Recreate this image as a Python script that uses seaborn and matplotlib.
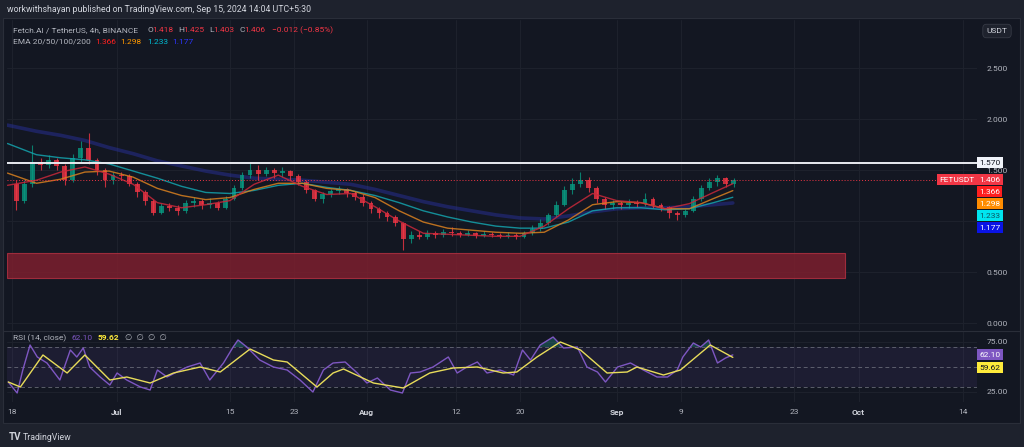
import pandas as pd
import matplotlib
matplotlib.use('Agg')
import matplotlib.pyplot as plt
import matplotlib.dates as mdates
from matplotlib.patches import Rectangle
from matplotlib.lines import Line2D
import seaborn as sns

W, H = 1024, 447

# ---- data (4h FET/USDT, aggregated to daily candles) ----
start = pd.Timestamp('2024-06-18')
first_open = 1.36
closes = [1.20, 1.36, 1.58, 1.55, 1.60, 1.54, 1.40, 1.62, 1.72, 1.60,
          1.50, 1.40, 1.45, 1.44, 1.36, 1.28, 1.20, 1.08, 1.15, 1.13,
          1.10, 1.18, 1.20, 1.16, 1.18, 1.13, 1.22, 1.32, 1.45, 1.50,
          1.46, 1.50, 1.47, 1.49, 1.44, 1.38, 1.30, 1.22, 1.26, 1.29,
          1.31, 1.27, 1.24, 1.18, 1.12, 1.08, 1.04, 0.98, 0.82, 0.86,
          0.84, 0.88, 0.86, 0.89, 0.88, 0.86, 0.88, 0.85, 0.87, 0.86,
          0.85, 0.86, 0.84, 0.88, 0.92, 0.98, 1.06, 1.16, 1.30, 1.36,
          1.40, 1.32, 1.22, 1.16, 1.18, 1.16, 1.18, 1.17, 1.22, 1.16,
          1.14, 1.08, 1.06, 1.10, 1.22, 1.32, 1.38, 1.42, 1.36, 1.406]
highs = [1.40, 1.40, 1.75, 1.62, 1.65, 1.62, 1.56, 1.66, 1.78, 1.86,
         1.62, 1.52, 1.48, 1.48, 1.46, 1.38, 1.30, 1.22, 1.18, 1.18,
         1.16, 1.21, 1.24, 1.22, 1.23, 1.20, 1.25, 1.35, 1.48, 1.57,
         1.55, 1.53, 1.52, 1.53, 1.50, 1.46, 1.40, 1.31, 1.28, 1.31,
         1.34, 1.32, 1.29, 1.26, 1.20, 1.14, 1.10, 1.06, 0.99, 0.90,
         0.90, 0.91, 0.90, 0.92, 0.94, 0.90, 0.91, 0.89, 0.90, 0.89,
         0.88, 0.89, 0.88, 0.90, 0.96, 1.02, 1.08, 1.20, 1.34, 1.42,
         1.48, 1.43, 1.34, 1.24, 1.21, 1.20, 1.22, 1.21, 1.27, 1.24,
         1.18, 1.15, 1.10, 1.12, 1.25, 1.35, 1.42, 1.45, 1.43, 1.42]
lows = [1.11, 1.18, 1.33, 1.50, 1.52, 1.50, 1.35, 1.38, 1.58, 1.56,
        1.45, 1.33, 1.36, 1.40, 1.34, 1.24, 1.16, 1.06, 1.07, 1.10,
        1.06, 1.08, 1.14, 1.12, 1.13, 1.11, 1.12, 1.21, 1.30, 1.42,
        1.40, 1.44, 1.42, 1.43, 1.40, 1.35, 1.27, 1.20, 1.18, 1.24,
        1.26, 1.24, 1.21, 1.15, 1.08, 1.03, 1.00, 0.95, 0.72, 0.78,
        0.82, 0.82, 0.83, 0.84, 0.85, 0.84, 0.85, 0.83, 0.84, 0.84,
        0.83, 0.83, 0.82, 0.83, 0.86, 0.90, 0.96, 1.04, 1.15, 1.26,
        1.33, 1.28, 1.18, 1.12, 1.12, 1.12, 1.13, 1.14, 1.15, 1.13,
        1.10, 1.03, 1.01, 1.04, 1.09, 1.20, 1.30, 1.34, 1.33, 1.33]

# EMA values sampled along the lines (day offsets from Jun 18)
ema_days = [-0.6, 3, 6, 9, 12, 15, 18, 21, 24, 27, 30, 33, 36, 39, 42, 45,
            48, 51, 54, 57, 60, 63, 66, 69, 72, 75, 78, 81, 84, 87, 89.4]
ema20 = [1.35, 1.40, 1.48, 1.53, 1.46, 1.36, 1.18, 1.13, 1.16, 1.20, 1.36,
         1.45, 1.34, 1.26, 1.27, 1.14, 1.00, 0.88, 0.87, 0.86, 0.85, 0.85,
         0.95, 1.12, 1.27, 1.20, 1.18, 1.12, 1.17, 1.28, 1.366]
ema50 = [1.47, 1.37, 1.41, 1.48, 1.49, 1.43, 1.32, 1.25, 1.21, 1.23, 1.31,
         1.37, 1.37, 1.32, 1.30, 1.23, 1.10, 0.99, 0.93, 0.91, 0.89, 0.88,
         0.89, 1.01, 1.16, 1.19, 1.18, 1.12, 1.12, 1.22, 1.298]
ema100 = [1.76, 1.65, 1.62, 1.60, 1.56, 1.49, 1.42, 1.34, 1.28, 1.27, 1.30,
          1.35, 1.37, 1.33, 1.30, 1.25, 1.18, 1.10, 1.04, 0.99, 0.95, 0.93,
          0.93, 0.99, 1.10, 1.13, 1.13, 1.11, 1.12, 1.18, 1.233]
ema200 = [1.94, 1.88, 1.84, 1.79, 1.72, 1.66, 1.59, 1.54, 1.49, 1.45, 1.42,
          1.41, 1.40, 1.38, 1.36, 1.31, 1.25, 1.19, 1.14, 1.10, 1.06, 1.03,
          1.02, 1.05, 1.09, 1.12, 1.13, 1.13, 1.14, 1.16, 1.177]

# RSI(14) and its moving average
rsi_days = [-0.5, 0.6, 1.3, 2.2, 3.1, 4.3, 5.9, 7.2, 8.0, 8.8, 9.6, 10.9,
            12.1, 13.0, 14.2, 15.9, 17.1, 18.0, 19.2, 20.4, 21.7, 23.3,
            24.5, 26.2, 27.4, 28.0, 29.1, 30.7, 32.4, 34.1, 35.7, 37.3,
            38.6, 39.8, 41.3, 42.8, 44.0, 45.3, 46.9, 48.4, 49.4, 50.6,
            52.2, 54.1, 55.2, 56.4, 57.7, 58.9, 60.5, 62.2, 63.3, 64.3,
            65.5, 67.1, 68.4, 70.1, 71.3, 72.6, 73.6, 75.1, 76.7, 78.3,
            80.0, 81.3, 82.5, 83.2, 84.5, 85.4, 86.4, 87.5, 88.5, 89.4]
rsi = [35, 24, 47, 72, 60, 54, 37, 67, 60, 69, 50, 40,
       32, 44, 37, 30, 27, 47, 40, 45, 50, 54,
       37, 54, 70, 77, 70, 57, 50, 47, 37, 25,
       47, 54, 55, 44, 34, 39, 27, 24, 44, 45,
       50, 60, 44, 50, 55, 44, 47, 42, 67, 57,
       72, 80, 69, 70, 50, 45, 35, 50, 54, 47,
       40, 40, 47, 60, 74, 70, 77, 54, 59, 62.10]
rsi_ma_days = [-0.5, 1.0, 3.8, 6.8, 9.0, 12.1, 14.2, 17.1, 20.0, 23.3, 25.8,
               29.5, 32.4, 34.1, 37.8, 39.8, 41.1, 44.8, 48.5, 51.8, 54.7,
               57.7, 60.9, 62.6, 65.1, 68.0, 70.5, 73.8, 76.3, 77.5, 80.8,
               82.9, 86.6, 89.4]
rsi_ma = [35, 30, 62, 44, 62, 37, 40, 34, 44, 50, 45,
          68, 57, 55, 30, 44, 48, 34, 29, 44, 49,
          50, 44, 45, 60, 75, 67, 44, 45, 50, 42,
          47, 72, 59.62]

resistance = 1.570
last_price = 1.406
zone_low, zone_high = 0.44, 0.686
zone_end = pd.Timestamp('2024-09-29 08:00')

price_ticks = [0.0, 0.5, 1.0, 1.5, 2.0, 2.5]
date_ticks = pd.to_datetime(['2024-06-18', '2024-07-01', '2024-07-15', '2024-07-23',
                             '2024-08-01', '2024-08-12', '2024-08-20', '2024-09-01',
                             '2024-09-09', '2024-09-23', '2024-10-01', '2024-10-14'])
date_labels = ['18', 'Jul', '15', '23', 'Aug', '12', '20', 'Sep', '9', '23', 'Oct', '14']

# ---- style ----
sns.set_theme(style='dark')
plt.rcParams['font.family'] = ['Roboto', 'DejaVu Sans']
BG = '#131722'
FRAME = '#1e222d'
TXT = '#b2b5be'
UP, DOWN = '#089981', '#f23645'

fig = plt.figure(figsize=(W / 100, H / 100), dpi=100, facecolor=FRAME)


def fx(px):
    return px / W


def fy(py):
    return 1 - py / H


fig.add_artist(Rectangle((fx(3), fy(423)), fx(1017), 405 / H, transform=fig.transFigure,
                         fc=BG, ec='#2a2e39', lw=0.8, zorder=0))

ax = fig.add_axes([fx(7), fy(330), fx(970), 310 / H])
rax = fig.add_axes([fx(7), fy(402), fx(970), 71 / H])

x0 = start - pd.Timedelta(days=0.66)
x1 = start + pd.Timedelta(days=119.7)

for a in (ax, rax):
    a.set_facecolor('none')
    for s in a.spines.values():
        s.set_visible(False)
    a.set_xlim(x0, x1)
    a.set_xticks(date_ticks)
    a.grid(True, color='#1d212c', lw=0.8)
    a.yaxis.tick_right()
    a.tick_params(axis='both', length=0, labelsize=6, labelcolor=TXT)

# ---- candles ----
days = pd.date_range(start, periods=len(closes), freq='D') + pd.Timedelta(hours=12)
opens = [first_open] + closes[:-1]
cols = [UP if c >= o else DOWN for o, c in zip(opens, closes)]
ax.vlines(days, lows, highs, colors=cols, lw=0.8, alpha=0.8, zorder=3)
bottoms = [min(o, c) for o, c in zip(opens, closes)]
heights = [max(abs(c - o), 0.006) for o, c in zip(opens, closes)]
ax.bar(days, heights, bottom=bottoms, width=0.6, color=cols, alpha=0.8, zorder=3, lw=0)

# ---- EMAs ----
ema_x = start + pd.to_timedelta(ema_days, unit='D')
ema_df = pd.DataFrame({'date': ema_x, 'e20': ema20, 'e50': ema50, 'e100': ema100, 'e200': ema200})
sns.lineplot(data=ema_df, x='date', y='e200', ax=ax, color='#2a33a8', lw=2.6, alpha=0.45, zorder=2)
sns.lineplot(data=ema_df, x='date', y='e100', ax=ax, color='#14a3ad', lw=1.0, alpha=0.85, zorder=4)
sns.lineplot(data=ema_df, x='date', y='e50', ax=ax, color='#d9801f', lw=1.0, alpha=0.85, zorder=4)
sns.lineplot(data=ema_df, x='date', y='e20', ax=ax, color='#c8283a', lw=1.0, alpha=0.85, zorder=4)

# levels and demand zone
ax.axhline(resistance, color='#e8eaf0', lw=1.4, zorder=5)
ax.plot([x0, x1 - pd.Timedelta(days=4.4)], [last_price, last_price], color=DOWN,
        lw=0.7, ls=(0, (1, 2)), zorder=5)
zx0 = mdates.date2num(x0)
ax.add_patch(Rectangle((zx0, zone_low), mdates.date2num(zone_end) - zx0, zone_high - zone_low,
                       fc='#7d1f2e', ec='#b03040', lw=0.8, alpha=0.85, zorder=1))

ax.set_ylim(-0.0686, 2.971)
ax.set_yticks(price_ticks)
ax.set_yticklabels(['' if v == 1.0 else f'{v:.3f}' for v in price_ticks])
ax.tick_params(axis='y', pad=7)
ax.set_xticklabels([])
ax.set_xlabel('')
ax.set_ylabel('')


def tag(a, yval, text, fc, tc, dy=0, dx=2, ha='left'):
    a.annotate(text, xy=(1, yval), xycoords=('axes fraction', 'data'),
               xytext=(dx, dy), textcoords='offset pixels', ha=ha, va='center',
               fontsize=6, color=tc, annotation_clip=False, zorder=10,
               bbox=dict(boxstyle='square,pad=0.3', fc=fc, ec='none'))


tag(ax, resistance, '1.570', '#f0f3fa', '#131722')
tag(ax, last_price, 'FETUSDT', DOWN, 'white', dx=-2, ha='right')
tag(ax, last_price, f'{last_price:.3f}', DOWN, 'white')
for i, (v, c, tc) in enumerate([(ema20[-1], '#ff1f1f', 'white'), (ema50[-1], '#ff8c00', 'white'),
                                (ema100[-1], '#00e5f0', '#0c5560'), (ema200[-1], '#0a14e6', 'white')]):
    tag(ax, last_price, f'{v:.3f}', c, tc, dy=-12 * (i + 1))

# ---- RSI pane ----
rx = start + pd.to_timedelta(rsi_days, unit='D')
rmx = start + pd.to_timedelta(rsi_ma_days, unit='D')
rax.axhspan(30, 70, color='#7e57c2', alpha=0.1, lw=0)
for lvl in (70, 50, 30):
    rax.axhline(lvl, color='#787b86', lw=0.7, ls=(0, (4, 3)), alpha=0.7)
rs = pd.Series(rsi, dtype=float)
rax.fill_between(rx, rs, 70, where=rs > 70, interpolate=True, color='#26a69a', alpha=0.3, lw=0)
sns.lineplot(x=rx, y=rsi, ax=rax, color='#7e57c2', lw=1.0)
sns.lineplot(x=rmx, y=rsi_ma, ax=rax, color='#e8dc5a', lw=1.0)
rax.set_ylim(15, 86)
rax.set_yticks([25, 75])
rax.set_yticklabels(['25.00', '75.00'])
rax.tick_params(axis='y', pad=7)
rax.tick_params(axis='x', pad=5)
rax.set_xticklabels(date_labels)
for lab in rax.get_xticklabels():
    if lab.get_text() in ('Jul', 'Aug', 'Sep', 'Oct'):
        lab.set_fontweight('bold')
        lab.set_color('#d1d4dc')
rax.set_xlabel('')
rax.set_ylabel('')
tag(rax, rsi[-1], f'{rsi[-1]:.2f}', '#7e57c2', 'white', dy=0)
tag(rax, rsi[-1], f'{rsi_ma[-1]:.2f}', '#ffeb3b', '#131722', dy=-13)

# pane separator
fig.add_artist(Line2D([fx(3), fx(1020)], [fy(330.5), fy(330.5)], transform=fig.transFigure,
                      color='#2a2e39', lw=0.8))

# ---- header / legend text ----
fig.text(fx(7), fy(10), 'workwithshayan published on TradingView.com, Sep 15, 2024 14:04 UTC+5:30',
         color='#d1d4dc', fontsize=6.3, va='center')
row1 = [(13, 'Fetch.AI / TetherUS, 4h, BINANCE', TXT), (147, 'O', TXT), (152, '1.418', DOWN),
        (178, 'H', TXT), (183, '1.425', DOWN), (209, 'L', TXT), (213, '1.403', DOWN),
        (239, 'C', TXT), (244, '1.406', DOWN), (272, '\u22120.012 (\u22120.85%)', DOWN)]
for px, s, c in row1:
    fig.text(fx(px), fy(30), s, color=c, fontsize=6, va='center')
row2 = [(13, 'EMA 20/50/100/200', TXT), (95, '1.366', '#ff2020'), (120, '1.298', '#ff9800'),
        (147, '1.233', '#00bcd4'), (172, '1.177', '#2b35ff')]
for px, s, c in row2:
    fig.text(fx(px), fy(42), s, color=c, fontsize=6, va='center')
row3 = [(13, 'RSI (14, close)', TXT), (72, '62.10', '#7e57c2'), (98, '59.62', '#ffeb3b'),
        (125, '\u2205  \u2205  \u2205  \u2205', TXT)]
for px, s, c in row3:
    fig.text(fx(px), fy(338), s, color=c, fontsize=6, va='center',
             fontweight='bold' if s == '59.62' else 'normal')

fig.text(fx(997), fy(31), 'USDT', color='#d1d4dc', fontsize=6, ha='center', va='center',
         bbox=dict(boxstyle='round,pad=0.45', fc=FRAME, ec='#363a45', lw=0.6))
fig.text(fx(9), fy(437), 'TV', color='#d1d4dc', fontsize=7, fontweight='bold', va='center')
fig.text(fx(23), fy(437), 'TradingView', color='#d1d4dc', fontsize=6.3, va='center')

fig.savefig('out.png', dpi=100, facecolor=FRAME)
